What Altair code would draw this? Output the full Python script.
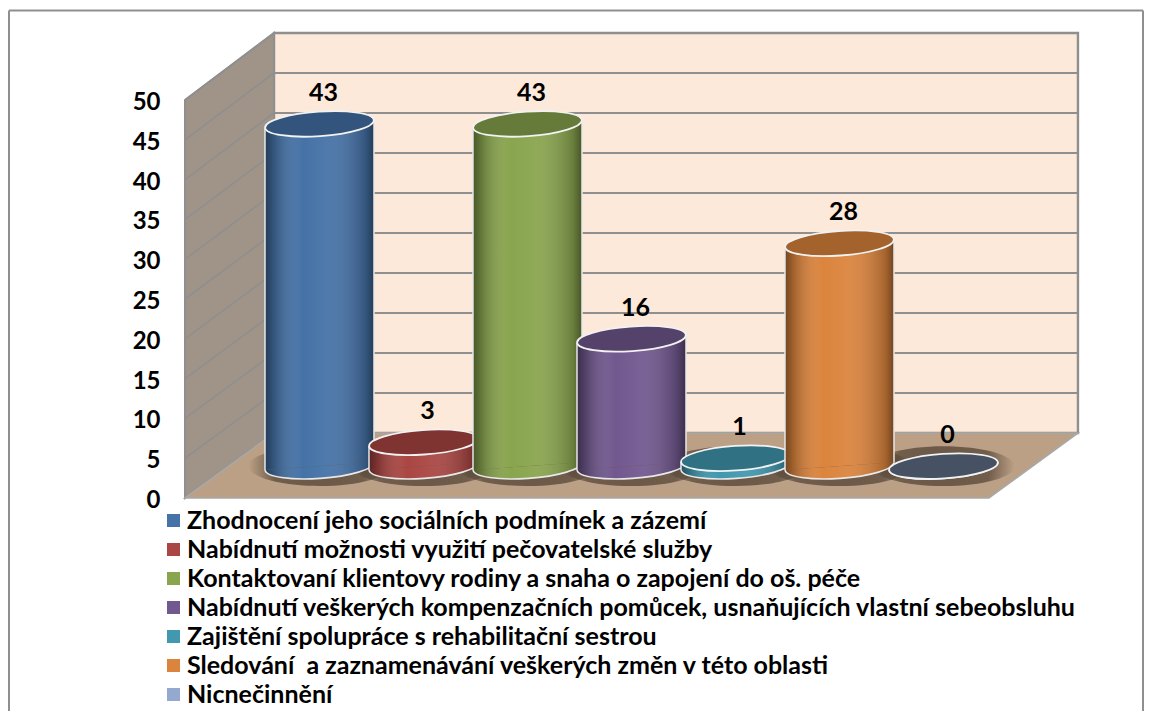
import altair as alt
import pandas as pd

categories = [
    "Zhodnocení jeho sociálních podmínek a zázemí",
    "Nabídnutí možnosti využití pečovatelské služby",
    "Kontaktovaní klientovy rodiny a snaha o zapojení do oš. péče",
    "Nabídnutí veškerých kompenzačních pomůcek, usnaňujících vlastní sebeobsluhu",
    "Zajištění spolupráce s rehabilitační sestrou",
    "Sledování \u00a0a zaznamenávání veškerých změn v této oblasti",
    "Nicnečinnění",
]
values = [43, 3, 43, 16, 1, 28, 0]
colors = ["#4572A7", "#AA4643", "#89A54E", "#71588F", "#4198AF", "#DB843D", "#93A9CF"]
ticks = [0, 5, 10, 15, 20, 25, 30, 35, 40, 45, 50]

W, H = 1136, 703
FONT = "Lato"
xs = alt.Scale(domain=[-2.995, 7.928], nice=False, zero=False)
ys = alt.Scale(domain=[-26.76, 61.56], nice=False, zero=False)

front_left, front_right = -1.293, 6.437
depth_x = 0.856
back_lift = 8.17
back_stretch = 1.005
bar_lift = 4.0
half_w = 0.524
tilt = 0.48
WALL = "#FDE9D9"
SIDE = "#A09488"
FLOOR = "#BCA085"
EDGE = "#8F8F8F"
OUT = "#E8E8E8"

ELLIPSE = "M -0.9976 0.0698 A 1 0.225 -4 0 1 0.9976 -0.0698 A 1 0.225 -4 0 1 -0.9976 0.0698 Z"
LOWER = "M -0.9976 0.0698 A 1 0.225 -4 0 0 0.9976 -0.0698"
SHADOW = "M -1 0 A 1 0.28 0 0 1 1 0 A 1 0.28 0 0 1 -1 0 Z"
BAR_PX = 109 ** 2
SHADOW_PX = 142 ** 2

y_axis = alt.Axis(
    values=ticks, orient="left", offset=-152, domain=False, ticks=False, grid=False,
    labelFont=FONT, labelFontSize=24, labelFontWeight="bold", labelColor="#000000",
    labelPadding=0, labelOverlap=False, labelOffset=2.5, title=None,
)
legend = alt.Legend(
    orient="none", legendX=153, legendY=500, title=None, symbolType="square",
    symbolSize=169, symbolStrokeWidth=0, labelFont=FONT, labelFontSize=25,
    labelFontWeight="bold", labelColor="#000000", labelLimit=1100, labelOffset=1,
    rowPadding=3, padding=0, values=categories,
)


def X(f="x"):
    return alt.X(f"{f}:Q", scale=xs, axis=None, title=None)


def Y(f="y"):
    return alt.Y(f"{f}:Q", scale=ys, axis=y_axis, title=None)


color_scale = alt.Scale(domain=categories, range=colors)
shade = alt.Gradient(
    gradient="linear", x1=0, x2=1, y1=0, y2=0,
    stops=[
        alt.GradientStop(color="rgba(0,0,0,0.48)", offset=0),
        alt.GradientStop(color="rgba(0,0,0,0.26)", offset=0.08),
        alt.GradientStop(color="rgba(255,255,255,0.0)", offset=0.35),
        alt.GradientStop(color="rgba(255,255,255,0.05)", offset=0.55),
        alt.GradientStop(color="rgba(0,0,0,0.24)", offset=0.92),
        alt.GradientStop(color="rgba(0,0,0,0.48)", offset=1),
    ],
)
blur = alt.RadialGradient(
    gradient="radial", x1=0.5, y1=0.5, x2=0.5, y2=0.5, r1=0, r2=0.5,
    stops=[
        alt.GradientStop(color="rgba(50,38,28,0.6)", offset=0),
        alt.GradientStop(color="rgba(50,38,28,0.55)", offset=0.65),
        alt.GradientStop(color="rgba(50,38,28,0)", offset=1),
    ],
)

side_wall = (
    alt.Chart(pd.DataFrame({
        "x": [front_left, front_left + depth_x],
        "y": [50, back_lift + 50 * back_stretch],
        "y0": [0, back_lift],
    }))
    .mark_area(color=SIDE, stroke=EDGE, strokeWidth=2, opacity=1)
    .encode(x=X(), y=Y(), y2=alt.Y2("y0:Q"))
)
side_grid = (
    alt.Chart(pd.DataFrame({
        "x": [front_left] * len(ticks),
        "x2": [front_left + depth_x] * len(ticks),
        "y": ticks,
        "y2": [back_lift + t * back_stretch for t in ticks],
    }))
    .mark_rule(color=EDGE, strokeWidth=1.6)
    .encode(x=X(), x2=alt.X2("x2:Q"), y=Y(), y2=alt.Y2("y2:Q"))
)
back_wall = (
    alt.Chart(pd.DataFrame({
        "x": [front_left + depth_x], "x2": [front_right + depth_x],
        "y": [back_lift], "y2": [back_lift + 50 * back_stretch],
    }))
    .mark_rect(color=WALL, stroke=EDGE, strokeWidth=2.4, opacity=1)
    .encode(x=X(), x2=alt.X2("x2:Q"), y=Y(), y2=alt.Y2("y2:Q"))
)
back_grid = (
    alt.Chart(pd.DataFrame({
        "x": [front_left + depth_x] * len(ticks),
        "x2": [front_right + depth_x] * len(ticks),
        "y": [back_lift + t * back_stretch for t in ticks],
    }))
    .mark_rule(color=EDGE, strokeWidth=2)
    .encode(x=X(), x2=alt.X2("x2:Q"), y=Y())
)
floor = (
    alt.Chart(pd.DataFrame({
        "y": [0, back_lift],
        "x": [front_left, front_left + depth_x],
        "x2": [front_right, front_right + depth_x],
    }))
    .mark_area(orient="horizontal", color=FLOOR, stroke="#A8A8A8", strokeWidth=1.6, opacity=1)
    .encode(y=Y(), x=X(), x2=alt.X2("x2:Q"))
)

rows = pd.DataFrame({
    "cat": categories,
    "k": list(range(len(values))),
    "value": values,
})
rows["base"] = bar_lift
rows["top"] = rows["value"] + bar_lift

shadows = (
    alt.Chart(rows)
    .mark_point(shape=SHADOW, filled=True, size=SHADOW_PX, color=blur, opacity=1)
    .encode(x=X("k"), y=Y("base"))
)

layers = [side_wall, back_wall, back_grid, side_grid, floor, shadows]

for k, (cat, val) in enumerate(zip(categories, values)):
    one = rows[rows.k == k]
    body = pd.DataFrame({
        "cat": [cat, cat],
        "x": [k - half_w, k + half_w],
        "top": [val + bar_lift - tilt, val + bar_lift + tilt],
        "base": [bar_lift - tilt, bar_lift + tilt],
    })
    layers += [
        alt.Chart(body).mark_area(opacity=1)
        .encode(x=X(), y=Y("top"), y2=alt.Y2("base:Q"),
                color=alt.Color("cat:N", scale=color_scale, legend=legend)),
        alt.Chart(body).mark_area(color=shade, opacity=1)
        .encode(x=X(), y=Y("top"), y2=alt.Y2("base:Q")),
        alt.Chart(one).mark_point(shape=LOWER, filled=True, size=BAR_PX, fill=colors[k], strokeWidth=0, opacity=1)
        .encode(x=X("k"), y=Y("base")),
        alt.Chart(one).mark_point(shape=LOWER, filled=True, size=BAR_PX, fill=shade, stroke=OUT, strokeWidth=1.6, opacity=1)
        .encode(x=X("k"), y=Y("base")),
        alt.Chart(body).mark_rule(color=OUT, strokeWidth=1.5, opacity=1)
        .encode(x=X(), y=Y("top"), y2=alt.Y2("base:Q")),
        alt.Chart(one).mark_point(shape=ELLIPSE, filled=True, size=BAR_PX, fill=colors[k], strokeWidth=0, opacity=1)
        .encode(x=X("k"), y=Y("top")),
        alt.Chart(one).mark_point(shape=ELLIPSE, filled=True, size=BAR_PX, fill="#000000", stroke="#F2F2F2", strokeWidth=1.8, opacity=1)
        .encode(
            x=X("k"), y=Y("top"),
            fillOpacity=alt.condition("datum.value == 0", alt.value(0.52), alt.value(0.25)),
        ),
    ]

labels = (
    alt.Chart(rows)
    .mark_text(font=FONT, fontSize=25, fontWeight="bold", color="#000000", dy=-31, dx=4)
    .encode(x=X("k"), y=Y("top"), text=alt.Text("value:Q"))
)
layers.append(labels)

frame = pd.DataFrame({"a": [0]})
layers += [
    alt.Chart(frame).mark_rule(color=EDGE, strokeWidth=2).encode(x=alt.value(1), y=alt.value(2.5), y2=alt.value(H)),
    alt.Chart(frame).mark_rule(color=EDGE, strokeWidth=2).encode(x=alt.value(W - 1), y=alt.value(2.5), y2=alt.value(H)),
    alt.Chart(frame).mark_rule(color=EDGE, strokeWidth=2).encode(x=alt.value(1), x2=alt.value(W - 1), y=alt.value(2.5)),
]

chart = (
    alt.layer(*layers)
    .properties(width=W, height=H, padding=0, autosize="none", background="#FFFFFF")
    .configure_view(stroke=None)
)
chart.save("out.html", embed_options={"renderer": "svg", "actions": False})
